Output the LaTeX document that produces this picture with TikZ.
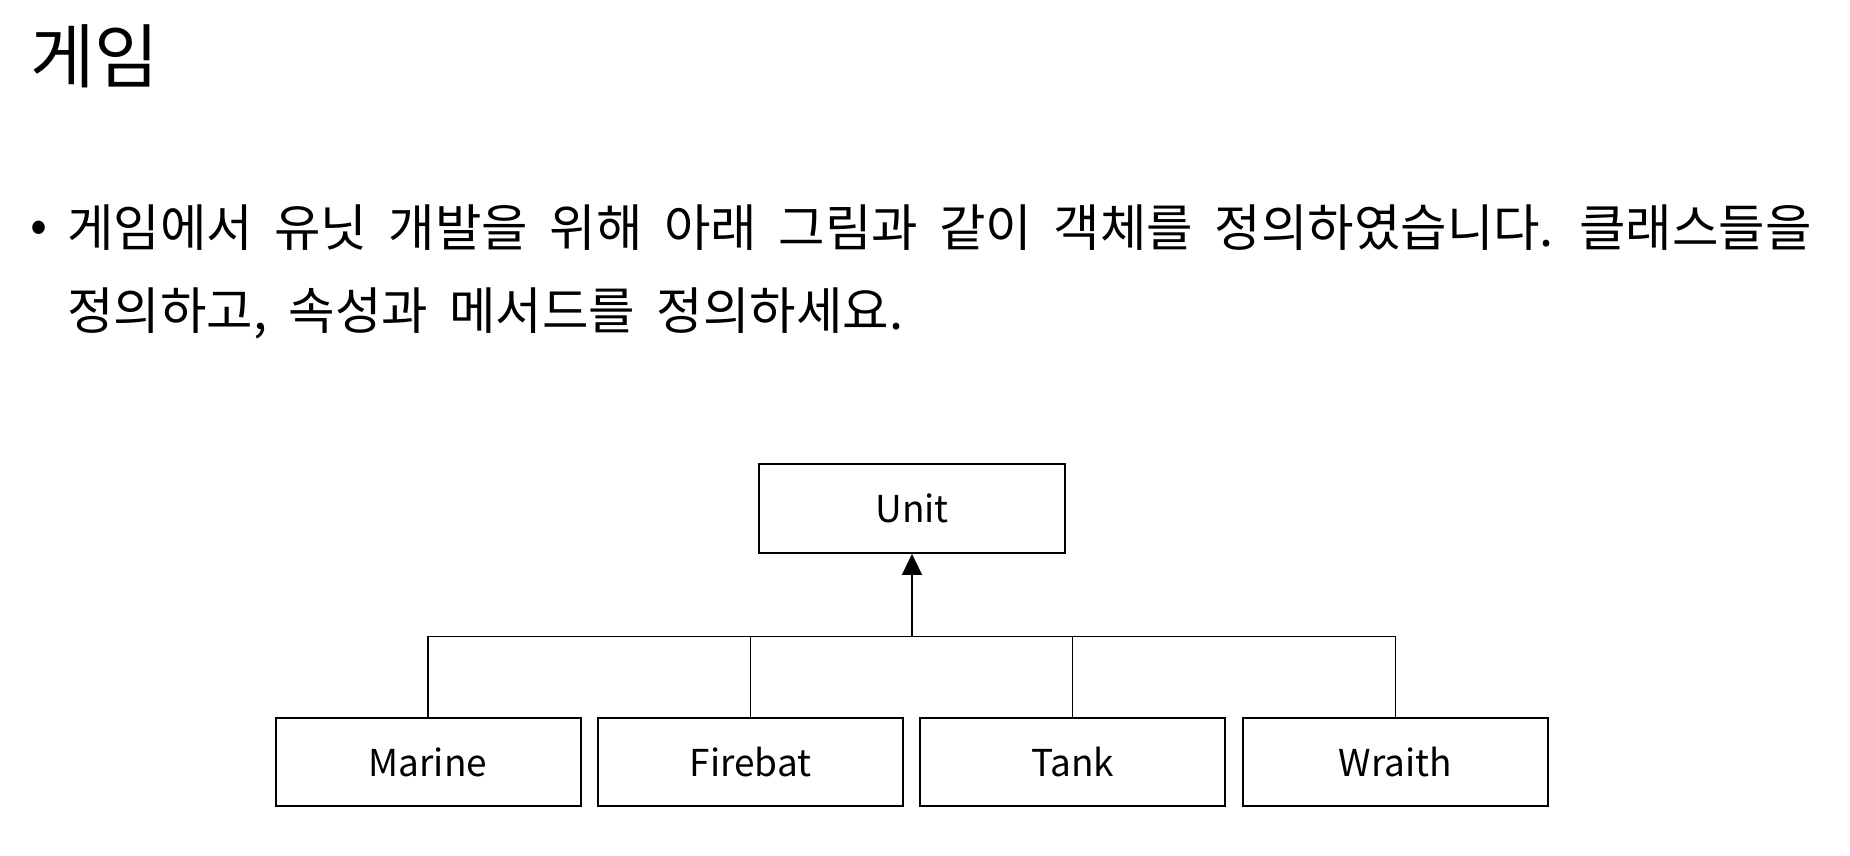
\documentclass[tikz,border=0pt]{standalone}
\usepackage{fontspec}
\setmainfont{Noto Sans CJK KR}
\newfontfamily\bodyfont[WordSpace={1.9,0,0}]{Noto Sans CJK KR}
\usetikzlibrary{arrows.meta}
\begin{document}
\begin{tikzpicture}[x=1pt,y=-1pt,
  box/.style={draw, line width=2pt, minimum width=305pt, minimum height=88pt, inner sep=0pt, font=\fontsize{37}{44}\selectfont},
  link/.style={line width=1.2pt},
  body/.style={anchor=west, inner sep=0pt, font=\bodyfont\fontsize{50.5}{60}\selectfont}]
\useasboundingbox (0,0) rectangle (1850,856);
\node[anchor=west, inner sep=0pt, font=\fontsize{70}{84}\selectfont] (title) at (30,56.6) {게임};
\node[anchor=center, inner sep=0pt, font=\fontsize{50}{60}\selectfont] (bullet) at (39,232) {•};
\node[body] (line1) at (67,227.5) {게임에서 유닛 개발을 위해 아래 그림과 같이 객체를 정의하였습니다. 클래스들을};
\node[body] (line2) at (67,313.6) {정의하고, 속성과 메서드를 정의하세요.};
\node[box, minimum width=306pt, minimum height=88.5pt] (unit) at (912,508.7) {Unit};
\node[box] (marine) at (428,762) {Marine};
\node[box] (firebat) at (750.5,762) {Firebat};
\node[box] (tank) at (1072.5,762) {Tank};
\node[box] (wraith) at (1395.5,762) {Wraith};
\coordinate (j) at (912,636.7);
\draw[line width=2pt, -{Triangle[width=20pt,length=21pt]}] (j) -- (unit.south);
\draw[link] (marine.north) |- (j);
\draw[link] (wraith.north) |- (j);
\draw[link] (firebat.north) |- (j);
\draw[link] (tank.north) |- (j);
\end{tikzpicture}
\end{document}
